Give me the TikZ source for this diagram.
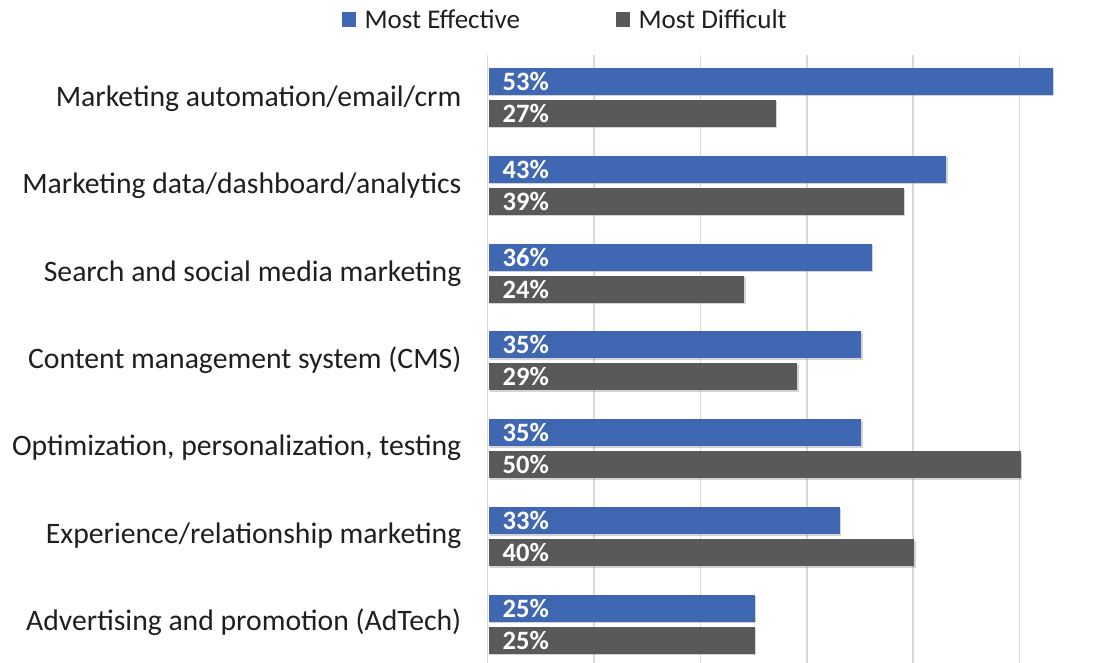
\documentclass[tikz,border=0pt]{standalone}
\usepackage{xcolor}
\usepackage{fontspec}
\setmainfont{Carlito}
\usepackage{tikz}
\usetikzlibrary{positioning,shadows}

\definecolor{effblue}{HTML}{4068B2}
\definecolor{difgray}{HTML}{595959}
\definecolor{gridgray}{HTML}{D9D9D9}

\begin{document}
\begin{tikzpicture}[x=1pt,y=-1pt,
        barbox/.style={inner sep=0pt,minimum height=27pt,anchor=west,
            drop shadow={shadow xshift=1.5pt,shadow yshift=-1.5pt,opacity=0.35}},
        valtext/.style={inner sep=0pt,text=white,font=\fontsize{26.5}{26.5}\selectfont\bfseries},
        cattext/.style={inner sep=0pt,anchor=east,text=black!88,text height=22pt,text depth=4pt,
            font=\fontsize{29.7}{29.7}\selectfont},
        legbox/.style={inner sep=0pt,minimum size=14.5pt},
        legtext/.style={inner sep=0pt,text=black!88,font=\fontsize{27}{27}\selectfont}]
    \useasboundingbox (0,0) rectangle (1109,663);
    % grid
    \foreach \g in {0,...,5}
        \draw[gridgray,line width=1.6pt] (487.5+106.4*\g,55) -- (487.5+106.4*\g,663);
    % legend
    \node[legbox,fill=effblue] (effkey) at (349,19.5) {};
    \node[legtext,right=8pt of effkey] (effleg) {Most Effective};
    \node[legbox,fill=difgray] (difkey) at (623,19.5) {};
    \node[legtext,right=8pt of difkey] (difleg) {Most Difficult};
    % bars
    \foreach \lbl/\eff/\dif [count=\i from 0] in {
            {Marketing automation/email/crm}/53/27,
            {Marketing data/dashboard/analytics}/43/39,
            {Search and social media marketing}/36/24,
            {Content management system (CMS)}/35/29,
            {Optimization, personalization, testing}/35/50,
            {Experience/relationship marketing}/33/40,
            {Advertising and promotion (AdTech)}/25/25} {
        \coordinate (row\i) at (488.5,97.5+87.3*\i);
        \node[barbox,fill=effblue,minimum width={\eff*10.64pt}] (effbar\i) at (488.5,81.5+87.8*\i) {};
        \node[barbox,fill=difgray,minimum width={\dif*10.64pt}] (difbar\i) at (488.5,113.5+87.8*\i) {};
        \node[valtext,right=14pt of effbar\i.west] (effval\i) {\eff\%};
        \node[valtext,right=14pt of difbar\i.west] (difval\i) {\dif\%};
        \node[cattext,left=27pt of row\i] (cat\i) {\lbl};
    }
\end{tikzpicture}
\end{document}
